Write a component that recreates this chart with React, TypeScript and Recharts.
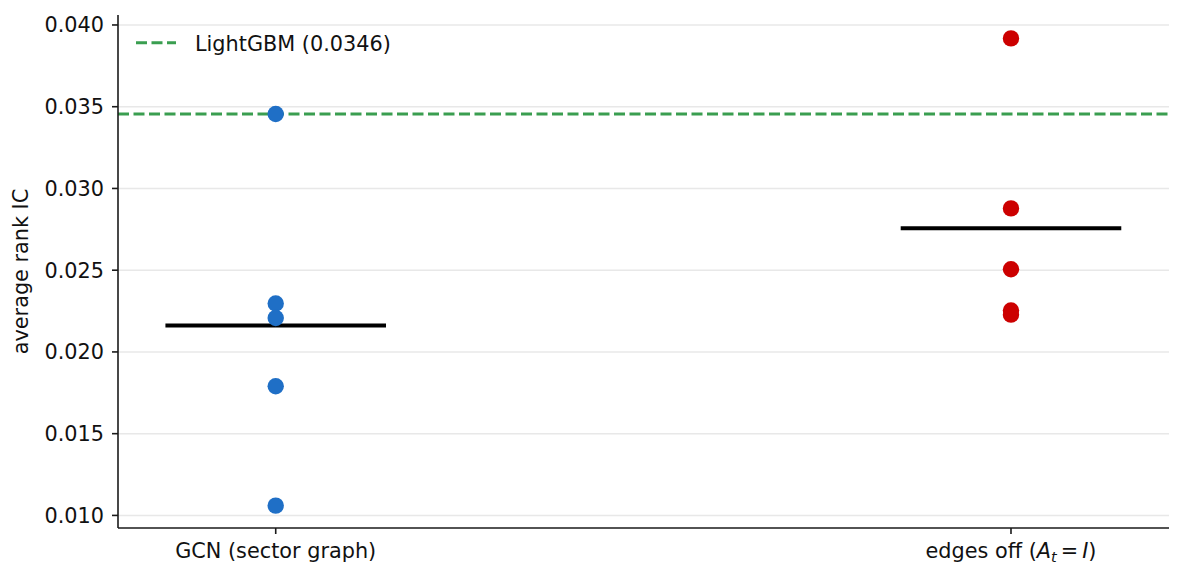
import {
  ComposedChart,
  ReferenceLine,
  Scatter,
  XAxis,
  YAxis,
} from "recharts";

const categories = ["GCN (sector graph)", "edges off"];
const gcnIc = [0.03455, 0.02296, 0.02208, 0.0179, 0.0106];
const edgesOffIc = [0.03918, 0.02878, 0.02506, 0.02253, 0.02228];
const lightgbmIc = 0.03455;
const yTicks = [0.01, 0.015, 0.02, 0.025, 0.03, 0.035, 0.04];

const FONT = "DejaVu Sans, Verdana, sans-serif";
const FS = 20.8;
const BLUE = "#1f6fc6";
const RED = "#cc0000";
const GREEN = "#3a9e50";
const AXIS = "#1a1a1a";

const toPoints = (vals: number[], cat: number) => vals.map((y) => ({ x: cat, y }));
const mean = (vals: number[]) => vals.reduce((a, b) => a + b, 0) / vals.length;

const gcnPoints = toPoints(gcnIc, 0);
const edgesPoints = toPoints(edgesOffIc, 1);
const HALF = 0.15; // half width of the mean bar, in category units

function Dot(color: string) {
  return (p: any) => <circle cx={p.cx} cy={p.cy} r={8.2} fill={color} />;
}

function XTick({ x, y, payload }: any) {
  const common = { x, y, dy: 24, textAnchor: "middle" as const, fontFamily: FONT, fontSize: FS, fill: "#111" };
  if (payload.value === 0) return <text {...common}>{categories[0]}</text>;
  return (
    <text {...common}>
      <tspan>{categories[1]} (</tspan>
      <tspan fontStyle="italic">A</tspan>
      <tspan fontStyle="italic" fontSize={14.5} dy={4}>t</tspan>
      <tspan dy={-4} dx={4}>=</tspan>
      <tspan fontStyle="italic" dx={4}>I</tspan>
      <tspan>)</tspan>
    </text>
  );
}

function YLabel({ viewBox }: any) {
  const cy = viewBox.y + viewBox.height / 2;
  return (
    <text
      x={28}
      y={cy}
      transform={`rotate(-90, 28, ${cy})`}
      textAnchor="middle"
      fontFamily={FONT}
      fontSize={FS}
      fill="#111"
    >
      average rank IC
    </text>
  );
}

export default function App() {
  return (
    <div style={{ position: "absolute", left: 0, top: 0, width: 1183, height: 582, background: "#fff" }}>
      <ComposedChart width={1183} height={582} margin={{ top: 15, right: 14, bottom: 0, left: 0 }}>
        <XAxis
          type="number"
          dataKey="x"
          domain={[-0.2145, 1.2149]}
          ticks={[0, 1]}
          allowDataOverflow
          height={54}
          tickSize={6}
          tickMargin={0}
          tick={<XTick />}
          axisLine={{ stroke: AXIS, strokeWidth: 1.6 }}
          tickLine={{ stroke: AXIS, strokeWidth: 1.6 }}
        />
        <YAxis
          type="number"
          dataKey="y"
          domain={[0.00923, 0.04061]}
          ticks={yTicks}
          allowDataOverflow
          width={118}
          tickSize={6}
          tickMargin={8}
          tickFormatter={(v: number) => v.toFixed(3)}
          tick={{ fontFamily: FONT, fontSize: FS, fill: "#111" }}
          axisLine={{ stroke: AXIS, strokeWidth: 1.6 }}
          tickLine={{ stroke: AXIS, strokeWidth: 1.6 }}
          label={{ content: YLabel }}
        />
        {/* horizontal grid at the labelled ticks */}
        {yTicks.map((t) => (
          <ReferenceLine key={t} y={t} stroke="#e8e8e8" strokeWidth={1.5} />
        ))}
        <ReferenceLine
          y={lightgbmIc}
          stroke={GREEN}
          strokeWidth={3}
          strokeDasharray="11 4.5"
        />
        <Scatter data={gcnPoints} shape={Dot(BLUE)} isAnimationActive={false} />
        <Scatter data={edgesPoints} shape={Dot(RED)} isAnimationActive={false} />
        <ReferenceLine
          segment={[{ x: -HALF, y: mean(gcnIc) }, { x: HALF, y: mean(gcnIc) }]}
          stroke="#000"
          strokeWidth={4}
        />
        <ReferenceLine
          segment={[{ x: 1 - HALF, y: mean(edgesOffIc) }, { x: 1 + HALF, y: mean(edgesOffIc) }]}
          stroke="#000"
          strokeWidth={4}
        />
      </ComposedChart>
      <svg
        width={300}
        height={32}
        style={{ position: "absolute", left: 130, top: 28, overflow: "visible" }}
      >
        <line x1={6} x2={46} y1={14.7} y2={14.7} stroke={GREEN} strokeWidth={3} strokeDasharray="11 4.5" />
        <text x={65} y={22.5} fontFamily={FONT} fontSize={FS} fill="#111">
          LightGBM (0.0346)
        </text>
      </svg>
    </div>
  );
}
